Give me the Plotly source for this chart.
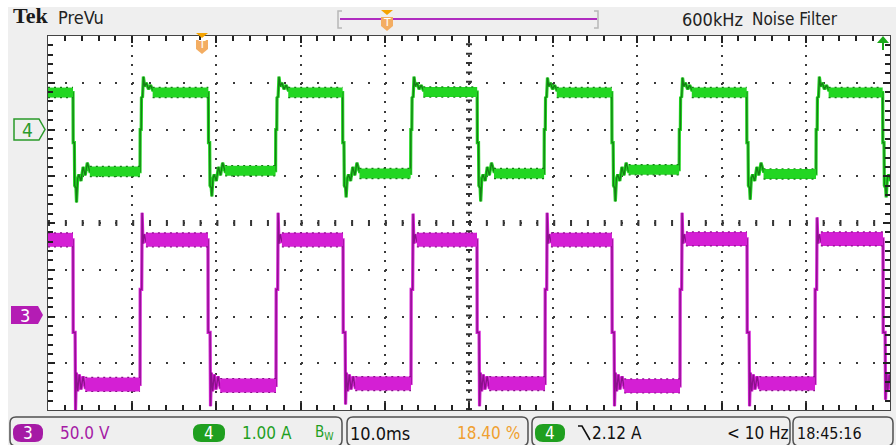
import plotly.graph_objects as go

# ---------------- data (read from the screen capture) ----------------
# horizontal: 10.0 ms/div, 10 divisions shown  -> 0 .. 100 ms across the screen
time_span_ms = [0.0, 100.0]
trigger_pos_ms = 18.4                     # 18.40 % of the record

# Channel 4 : current, 1.00 A/div, ground marker +2 div
ch4_scale = 1.00
ch4_offset_div = 2.0
ch4_fall_ms = [2.97, 19.04, 34.99, 50.97, 66.96, 82.98, 99.13]
ch4_rise_ms = [10.93, 27.03, 43.07, 58.92, 74.96, 91.21]
ch4_high_A = [0.79, 0.79, 0.79, 0.80, 0.79, 0.79, 0.79]      # plateau before each fall
ch4_low_A = [-0.90, -0.88, -0.94, -0.94, -0.86, -0.95, -0.98]  # plateau after each fall
ch4_rise_peak_A = [1.13, 1.13, 1.13, 1.11, 1.11, 1.13]
ch4_fall_dip_A = [-1.56, -1.43, -1.45, -1.54, -1.54, -1.50, -1.45]
ch4_noise_A = 0.11
ch4_rise_pre_ms = [0.02, 0.14, 0.17, 0.30]
ch4_rise_pre_A = [0.00, 0.00, 0.68, 0.70]
ch4_rise_peak_ms = 0.40
ch4_rise_post_ms = [0.55, 0.75, 1.00, 1.25, 1.50]
ch4_rise_post_A = [0.92, 1.00, 0.86, 0.95, 0.84]
ch4_fall_pre_ms = [0.02, 0.16, 0.20, 0.35]
ch4_fall_pre_A = [-0.28, -0.28, -1.20, -1.25]
ch4_fall_peak_ms = 0.42
ch4_fall_post_ms = [0.55, 0.70, 0.95, 1.20, 1.45, 1.70, 2.00]
ch4_fall_post_A = [-1.05, -0.96, -1.10, -0.80, -0.98, -0.71, -0.90]

# Channel 3 : voltage, 50.0 V/div, ground marker -2 div
ch3_scale = 50.0
ch3_offset_div = -2.0
ch3_fall_ms = [2.97, 19.00, 35.04, 50.95, 66.98, 83.02, 99.17]
ch3_rise_ms = [10.93, 27.08, 43.11, 59.03, 75.06, 91.09]
ch3_high_V = [82.0, 82.0, 82.0, 82.0, 82.0, 83.0, 83.0]
ch3_low_V = [-72.7, -73.8, -71.7, -71.7, -74.3, -71.7, -70.6]
ch3_rise_peak_V = [111.0, 111.0, 110.0, 111.0, 111.0, 106.0]
ch3_fall_dip_V = [-100.0, -96.0, -94.0, -96.0, -96.0, -96.0, -89.0]
ch3_noise_V = 7.5
ch3_rise_pre_ms = [0.02, 0.20]
ch3_rise_pre_V = [29.0, 29.0]
ch3_rise_peak_ms = 0.25
ch3_rise_post_ms = [0.35, 0.50, 0.70]
ch3_rise_post_V = [78.0, 88.0, 80.0]
ch3_fall_pre_ms = [0.02, 0.25]
ch3_fall_pre_V = [-17.0, -17.0]
ch3_fall_peak_ms = 0.30
ch3_fall_post_ms = [0.40, 0.55, 0.75, 0.95, 1.20, 1.45]
ch3_fall_post_V = [-60.0, -80.0, -62.0, -78.0, -64.0, -76.0]

# read-outs
top_title = "Tek"
top_mode = "PreVu"
top_filter = ["600kHz", "Noise Filter"]
ch3_readout = "50.0 V"
ch4_readout = "1.00 A"
timebase_readout = "10.0ms"
trigpos_readout = "18.40 %"
trig_level_readout = "2.12 A"
freq_readout = "< 10 Hz"
clock_readout = "18:45:16"


# ---------------- waveform assembly ----------------
def build(falls, rises, highs, lows, rpk, fdp,
          rpre_t, rpre_v, rpk_t, rpost_t, rpost_v,
          fpre_t, fpre_v, fpk_t, fpost_t, fpost_v, t_end):
    t, v = [time_span_ms[0]], [highs[0]]
    bt, bv = [time_span_ms[0]], [highs[0]]
    for i, tf in enumerate(falls):
        t.append(tf); v.append(highs[i])
        bt += [tf, None]; bv += [highs[i], None]
        for dt, val in zip(fpre_t, fpre_v):
            t.append(tf + dt); v.append(val)
        t.append(tf + fpk_t); v.append(fdp[i])
        for dt, val in zip(fpost_t, fpost_v):
            t.append(tf + dt); v.append(val)
        nxt = rises[i] if i < len(rises) else t_end
        bt += [tf + fpost_t[-1], nxt, None]; bv += [lows[i], lows[i], None]
        t.append(nxt); v.append(lows[i])
        if i < len(rises):
            tr = rises[i]
            for dt, val in zip(rpre_t, rpre_v):
                t.append(tr + dt); v.append(val)
            t.append(tr + rpk_t); v.append(rpk[i])
            for dt, val in zip(rpost_t, rpost_v):
                t.append(tr + dt); v.append(val)
            bt += [tr + rpost_t[-1]]; bv += [highs[i + 1]]
    return t, v, bt, bv


def to_div(vals, scale, off):
    return [None if x is None else off + x / scale for x in vals]


c4t, c4v, c4bt, c4bv = build(ch4_fall_ms, ch4_rise_ms, ch4_high_A, ch4_low_A,
                             ch4_rise_peak_A, ch4_fall_dip_A,
                             ch4_rise_pre_ms, ch4_rise_pre_A, ch4_rise_peak_ms,
                             ch4_rise_post_ms, ch4_rise_post_A,
                             ch4_fall_pre_ms, ch4_fall_pre_A, ch4_fall_peak_ms,
                             ch4_fall_post_ms, ch4_fall_post_A, time_span_ms[1])
c3t, c3v, c3bt, c3bv = build(ch3_fall_ms, ch3_rise_ms, ch3_high_V, ch3_low_V,
                             ch3_rise_peak_V, ch3_fall_dip_V,
                             ch3_rise_pre_ms, ch3_rise_pre_V, ch3_rise_peak_ms,
                             ch3_rise_post_ms, ch3_rise_post_V,
                             ch3_fall_pre_ms, ch3_fall_pre_V, ch3_fall_peak_ms,
                             ch3_fall_post_ms, ch3_fall_post_V, time_span_ms[1])

GREEN = "#22d622"
GREEN_DK = "#157f15"
MAG = "#d41fd4"
MAG_DK = "#8c108c"

fig = go.Figure()


def add_channel(t, v, bt, bv, scale, off, noise, bright, dark, band_w):
    y = to_div(v, scale, off)
    fig.add_trace(go.Scatter(x=t, y=y, mode="lines", line=dict(color=bright, width=3.2),
                             hoverinfo="skip"))
    fig.add_trace(go.Scatter(x=t, y=y, mode="lines", line=dict(color=dark, width=1.3),
                             hoverinfo="skip"))
    fig.add_trace(go.Scatter(x=bt, y=to_div(bv, scale, off), mode="lines",
                             line=dict(color=bright, width=band_w), hoverinfo="skip"))
    up = [None if x is None else x + noise for x in bv]
    dn = [None if x is None else x - noise for x in bv]
    for edge in (up, dn):
        fig.add_trace(go.Scatter(x=bt, y=to_div(edge, scale, off), mode="lines",
                                 line=dict(color=dark, width=1.2, dash="2px,4px"),
                                 hoverinfo="skip"))


add_channel(c4t, c4v, c4bt, c4bv, ch4_scale, ch4_offset_div, ch4_noise_A, GREEN, GREEN_DK, 10)
add_channel(c3t, c3v, c3bt, c3bv, ch3_scale, ch3_offset_div, ch3_noise_V, MAG, MAG_DK, 14)

# ---------------- layout ----------------
W, H = 896, 445
ML, MR, MT, MB = 48, 6, 36, 35
PW, PH = W - ML - MR, H - MT - MB


def X(px):
    return (px - ML) / PW


def Y(py):
    return (H - MB - py) / PH


def path(pts, close=True):
    s = "M " + " L ".join(f"{X(a):.5f},{Y(b):.5f}" for a, b in pts)
    return s + (" Z" if close else "")


def rrect(x0, y0, x1, y1, r):
    p = (f"M {X(x0 + r):.5f},{Y(y0):.5f} L {X(x1 - r):.5f},{Y(y0):.5f} "
         f"Q {X(x1):.5f},{Y(y0):.5f} {X(x1):.5f},{Y(y0 + r):.5f} "
         f"L {X(x1):.5f},{Y(y1 - r):.5f} Q {X(x1):.5f},{Y(y1):.5f} {X(x1 - r):.5f},{Y(y1):.5f} "
         f"L {X(x0 + r):.5f},{Y(y1):.5f} Q {X(x0):.5f},{Y(y1):.5f} {X(x0):.5f},{Y(y1 - r):.5f} "
         f"L {X(x0):.5f},{Y(y0 + r):.5f} Q {X(x0):.5f},{Y(y0):.5f} {X(x0 + r):.5f},{Y(y0):.5f} Z")
    return p


shapes = []
# white outer strips
shapes.append(dict(type="rect", xref="paper", yref="paper", x0=X(0), x1=X(8), y0=Y(445), y1=Y(0),
                   fillcolor="white", line_width=0, layer="below"))
shapes.append(dict(type="rect", xref="paper", yref="paper", x0=X(0), x1=X(896), y0=Y(7), y1=Y(0),
                   fillcolor="white", line_width=0, layer="below"))
# centre cross tick marks
shapes.append(dict(type="line", xref="x", yref="y", x0=50, x1=50, y0=-4, y1=4,
                   line=dict(color="#333333", width=6, dash="2px,7.35px"), layer="below"))
shapes.append(dict(type="line", xref="x", yref="y", x0=0, x1=100, y0=0, y1=0,
                   line=dict(color="#333333", width=6, dash="2px,14.84px"), layer="below"))

# record view bar
shapes.append(dict(type="path", xref="paper", yref="paper",
                   path=path([(342, 11), (338, 11), (338, 28), (342, 28)], close=False),
                   line=dict(color="#b8b8b8", width=1.5)))
shapes.append(dict(type="path", xref="paper", yref="paper",
                   path=path([(594, 11), (598, 11), (598, 28), (594, 28)], close=False),
                   line=dict(color="#b8b8b8", width=1.5)))
shapes.append(dict(type="line", xref="paper", yref="paper", x0=X(340), x1=X(597), y0=Y(19), y1=Y(19),
                   line=dict(color="#b02cc0", width=2)))
# trigger position markers (record bar and screen top)
for tx, ty in ((387, 10), (202, 33)):
    shapes.append(dict(type="path", xref="paper", yref="paper",
                       path=path([(tx - 6, ty), (tx + 6, ty), (tx, ty + 5)]),
                       fillcolor="#f5a300", line_width=0))
    shapes.append(dict(type="path", xref="paper", yref="paper",
                       path=path([(tx - 6, ty + 7), (tx + 6, ty + 7), (tx + 6, ty + 16),
                                  (tx, ty + 21), (tx - 6, ty + 16)]),
                       fillcolor="#f3ad62", line_width=0))
# trigger level arrow (off-screen, top right)
shapes.append(dict(type="path", xref="paper", yref="paper",
                   path=path([(877, 43), (889, 43), (883, 36)]), fillcolor="#1aa81a", line_width=0))
shapes.append(dict(type="line", xref="paper", yref="paper", x0=X(883), x1=X(883), y0=Y(42), y1=Y(50),
                   line=dict(color="#1aa81a", width=2)))

# channel markers
shapes.append(dict(type="path", xref="paper", yref="paper",
                   path=path([(14, 119), (39, 119), (45, 129.5), (39, 140), (14, 140)]),
                   fillcolor="#efefef", line=dict(color="#2a9a2a", width=1.5)))
shapes.append(dict(type="path", xref="paper", yref="paper",
                   path=path([(11, 306), (38, 306), (43, 315), (38, 324), (11, 324)]),
                   fillcolor="#b41cb4", line_width=0))

# status boxes
for bx0, bx1 in ((10, 342), (347, 528), (532, 790), (793, 893)):
    shapes.append(dict(type="path", xref="paper", yref="paper", path=rrect(bx0, 417, bx1, 446, 6),
                       fillcolor="#efefef", line=dict(color="#505050", width=1.5)))
# pills
for px0, px1, col in ((13, 43, "#a51aa5"), (193, 225, "#1f9f1f"), (535, 565, "#1f9f1f")):
    shapes.append(dict(type="path", xref="paper", yref="paper", path=rrect(px0, 424, px1, 442, 8),
                       fillcolor=col, line_width=0))
# falling-slope symbol
shapes.append(dict(type="path", xref="paper", yref="paper",
                   path=path([(578, 426), (582, 426), (590, 440)], close=False),
                   line=dict(color="#111111", width=1.6)))

NARROW = "DejaVu Sans Condensed, Liberation Sans Narrow, Liberation Sans, sans-serif"
ann = []


def txt(s, x, y, size, color, anchor="left", family=NARROW, **kw):
    ann.append(dict(text=s, xref="paper", yref="paper", x=X(x), y=Y(y), xanchor=anchor,
                    yanchor="middle", showarrow=False,
                    font=dict(family=family, size=size, color=color), **kw))


txt("<b>" + top_title + "</b>", 11, 15, 22, "#1a1a1a", family="Liberation Serif, DejaVu Serif, serif")
txt(top_mode, 56, 17, 18, "#222222")
txt(top_filter[0], 745, 19, 18, "#222222", anchor="right")
txt(top_filter[1], 840, 19, 17, "#222222", anchor="right")
txt("T", 387, 22, 11, "white", anchor="center", family="DejaVu Sans, sans-serif")
txt("T", 202, 45, 11, "white", anchor="center", family="DejaVu Sans, sans-serif")
txt("4", 27, 129.5, 19, "#2a9a2a", anchor="center")
txt("3", 25, 315, 18, "white", anchor="center")
txt("3", 28, 433, 17, "white", anchor="center")
txt(ch3_readout, 58, 433, 17, "#a51aa5")
txt("4", 209, 433, 17, "white", anchor="center")
txt(ch4_readout, 240, 433, 17, "#1f9f1f")
txt("B<sub>W</sub>", 313, 432, 15, "#1f9f1f")
txt(timebase_readout, 348, 433, 18, "#111111")
txt(trigpos_readout, 522, 433, 17, "#f0a030", anchor="right")
txt("4", 550, 433, 17, "white", anchor="center")
txt(trig_level_readout, 590, 433, 17, "#111111")
txt(freq_readout, 791, 433, 17, "#111111", anchor="right")
txt(clock_readout, 795, 433, 16, "#111111")

fig.update_layout(
    width=W, height=H,
    margin=dict(l=ML, r=MR, t=MT, b=MB, pad=0, autoexpand=False),
    paper_bgcolor="#efefef", plot_bgcolor="white",
    showlegend=False, shapes=shapes, annotations=ann,
    xaxis=dict(range=time_span_ms, dtick=10, tick0=0, showticklabels=False,
               showgrid=True, gridcolor="#3a3a3a", gridwidth=2, griddash="2px,7.35px",
               zeroline=False, showline=True, linecolor="#444444", linewidth=1, mirror="ticks",
               ticks="inside", ticklen=7, tickcolor="#222222", tickwidth=1.5,
               minor=dict(dtick=2, ticks="inside", ticklen=5, tickcolor="#222222", tickwidth=1.5,
                          showgrid=False),
               fixedrange=True),
    yaxis=dict(range=[-4, 4], dtick=1, tick0=0, showticklabels=False,
               showgrid=True, gridcolor="#3a3a3a", gridwidth=2, griddash="2px,14.84px",
               zeroline=False, showline=True, linecolor="#444444", linewidth=1, mirror="ticks",
               ticks="inside", ticklen=7, tickcolor="#222222", tickwidth=1.5,
               minor=dict(dtick=0.2, ticks="inside", ticklen=5, tickcolor="#222222", tickwidth=1.5,
                          showgrid=False),
               fixedrange=True),
)

fig.write_html("out.html", config={"displayModeBar": False},
               post_script="document.body.style.margin='0px';document.body.style.overflow='hidden';")
